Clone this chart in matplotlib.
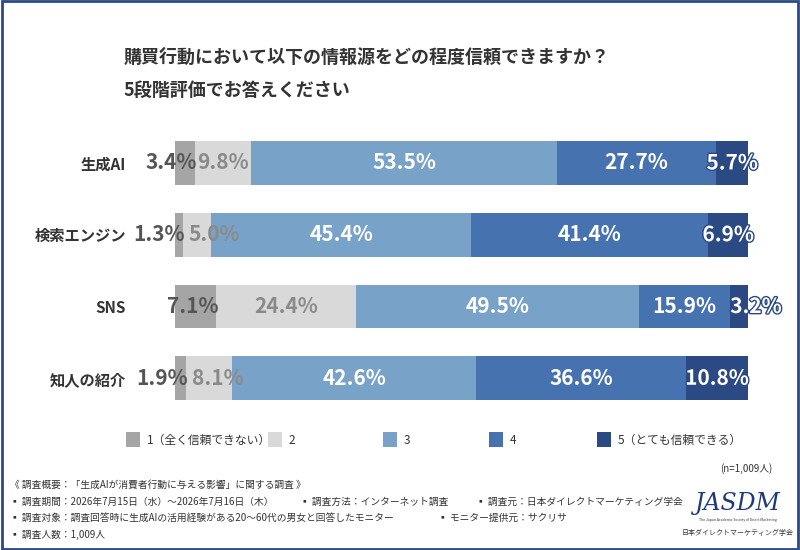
import matplotlib.pyplot as plt
import matplotlib.patheffects as pe
from matplotlib.patches import Rectangle

plt.rcParams['font.family'] = ['Noto Sans CJK JP', 'DejaVu Sans']

categories = ['生成AI', '検索エンジン', 'SNS', '知人の紹介']
values = [
    [3.4, 9.8, 53.5, 27.7, 5.7],
    [1.3, 5.0, 45.4, 41.4, 6.9],
    [7.1, 24.4, 49.5, 15.9, 3.2],
    [1.9, 8.1, 42.6, 36.6, 10.8],
]
levels = ['1（全く信頼できない）', '2', '3', '4', '5（とても信頼できる）']
colors = ['#a5a5a5', '#d9d9d9', '#79a2c8', '#4673b0', '#2b4a84']
text_colors = ['#555555', '#8a8a8a', 'white', 'white', 'white']

fig = plt.figure(figsize=(8, 5.5), dpi=100)
fig.patches.append(Rectangle((0.002, 0.002), 0.996, 0.996, transform=fig.transFigure,
                             fill=False, edgecolor='#2b4a84', linewidth=2))
ax = fig.add_axes([0.219, 0.247, 0.716, 0.522])

for i, row in enumerate(values):
    left = 0
    for j, v in enumerate(row):
        ax.barh(i, v, left=left, height=0.61, color=colors[j])
        if j == 0:
            x, ha = left + v + 0.4, 'right'
        elif j == 1 and v < 9:
            x, ha = left + 1.0, 'left'
        elif j == 4 and v < 5:
            x, ha = left, 'left'
        else:
            x, ha = left + v / 2, 'center'
        t = ax.text(x, i, f'{v:.1f}%', ha=ha, va='center', fontsize=15,
                    fontweight='bold', color=text_colors[j])
        if j == 4:
            t.set_path_effects([pe.withStroke(linewidth=2, foreground='#2b4a84')])
        left += v

ax.set_xlim(0, 100)
ax.set_ylim(3.5, -0.5)
ax.set_yticks(range(len(categories)))
ax.set_yticklabels(categories, fontsize=11, color='#333333', fontweight='bold')
ax.tick_params(left=False, bottom=False, pad=32)
ax.set_xticks([])
for s in ax.spines.values():
    s.set_visible(False)

fig.text(0.155, 0.895, '購買行動において以下の情報源をどの程度信頼できますか？', fontsize=13,
         fontweight='bold', color='#333333', va='center')
fig.text(0.155, 0.835, '5段階評価でお答えください', fontsize=13,
         fontweight='bold', color='#333333', va='center')

leg_x = [0.158, 0.335, 0.479, 0.611, 0.746]
for x, c, lab in zip(leg_x, colors, levels):
    fig.patches.append(Rectangle((x, 0.188), 0.0175, 0.027, transform=fig.transFigure,
                                 facecolor=c))
    fig.text(x + 0.026, 0.2, lab, fontsize=8.5, color='#333333', va='center')

fig.text(0.965, 0.142, '(n=1,009人)', fontsize=7, ha='right', color='#333333')
notes = [
    (0.012, 0.118, '《 調査概要：「生成AIが消費者行動に与える影響」に関する調査 》'),
    (0.012, 0.088, '▪ 調査期間：2026年7月15日（水）～2026年7月16日（木）'),
    (0.375, 0.088, '▪ 調査方法：インターネット調査'),
    (0.595, 0.088, '▪ 調査元：日本ダイレクトマーケティング学会'),
    (0.012, 0.058, '▪ 調査対象：調査回答時に生成AIの活用経験がある20～60代の男女と回答したモニター'),
    (0.548, 0.058, '▪ モニター提供元：サクリサ'),
    (0.012, 0.027, '▪ 調査人数：1,009人'),
]
for x, y, s in notes:
    fig.text(x, y, s, fontsize=7, color='#333333', va='center')

fig.text(0.922, 0.085, 'JASDM', fontsize=17, ha='center', va='center',
         color='#1f3a78', style='italic', fontfamily='DejaVu Serif')
fig.text(0.922, 0.052, 'The Japan Academic Society of Direct Marketing', fontsize=2.5,
         ha='center', color='#333333')
fig.text(0.922, 0.03, '日本ダイレクトマーケティング学会', fontsize=5, ha='center',
         va='center', color='#333333')

fig.savefig('out.png', dpi=100, facecolor='white')
